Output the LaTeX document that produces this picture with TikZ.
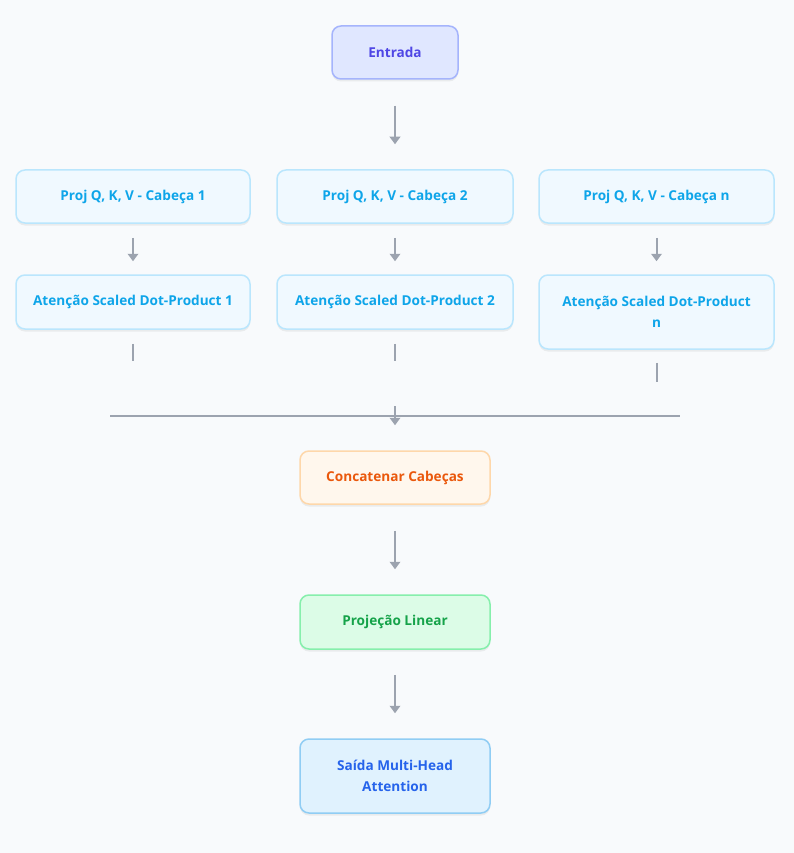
\documentclass[tikz,border=0pt]{standalone}
\usepackage{fontspec}
\setmainfont{Open Sans}
\usetikzlibrary{arrows.meta,shadows}
\definecolor{bg}{HTML}{F8FAFC}
\definecolor{arr}{HTML}{9CA3AF}
\definecolor{inF}{HTML}{E0E7FF}\definecolor{inD}{HTML}{A5B4FC}\definecolor{inT}{HTML}{4F46E5}
\definecolor{hdF}{HTML}{F0F9FF}\definecolor{hdD}{HTML}{BAE6FD}\definecolor{hdT}{HTML}{0EA5E9}
\definecolor{ccF}{HTML}{FFF7ED}\definecolor{ccD}{HTML}{FED7AA}\definecolor{ccT}{HTML}{EA580C}
\definecolor{lnF}{HTML}{DCFCE7}\definecolor{lnD}{HTML}{86EFAC}\definecolor{lnT}{HTML}{16A34A}
\definecolor{ouF}{HTML}{E0F2FE}\definecolor{ouD}{HTML}{90CDF4}\definecolor{ouT}{HTML}{2563EB}
\tikzset{
  box/.style={rounded corners=9pt, line width=1.5pt, align=center, inner sep=0pt,
    font=\fontsize{13.6}{20.5}\selectfont\bfseries,
    drop shadow={opacity=0.12, shadow xshift=0pt, shadow yshift=-2.5pt}},
  inbox/.style={box, fill=inF, draw=inD, text=inT},
  hdbox/.style={box, fill=hdF, draw=hdD, text=hdT},
  ccbox/.style={box, fill=ccF, draw=ccD, text=ccT},
  lnbox/.style={box, fill=lnF, draw=lnD, text=lnT},
  oubox/.style={box, fill=ouF, draw=ouD, text=ouT},
  conn/.style={draw=arr, line width=2pt},
  arrowc/.style={conn, -{Triangle[length=7.5pt,width=10.5pt]}},
}
\begin{document}
\begin{tikzpicture}[x=1pt,y=-1pt]
\fill[bg] (0,0) rectangle (794,853);
\useasboundingbox (0,0) rectangle (794,853);
% nodes
\node[inbox, minimum width=126pt, minimum height=53pt] (in) at (395,52.5) {Entrada};
\node[hdbox, minimum width=234pt, minimum height=53pt] (p1) at (133,196.5) {Proj Q, K, V - Cabeça 1};
\node[hdbox, minimum width=236pt, minimum height=53pt] (p2) at (395,196.5) {Proj Q, K, V - Cabeça 2};
\node[hdbox, minimum width=235pt, minimum height=53pt] (p3) at (656.5,196.5) {Proj Q, K, V - Cabeça n};
\node[hdbox, minimum width=234pt, minimum height=54pt] (a1) at (133,302) {Atenção Scaled Dot-Product 1};
\node[hdbox, minimum width=236pt, minimum height=54pt] (a2) at (395,302) {Atenção Scaled Dot-Product 2};
\node[hdbox, minimum width=235pt, minimum height=74pt] (a3) at (656.5,312) {Atenção Scaled Dot-Product\\n};
\node[ccbox, minimum width=190pt, minimum height=53pt] (cc) at (395,477.5) {Concatenar Cabeças};
\node[lnbox, minimum width=190pt, minimum height=54pt] (ln) at (395,622) {Projeção Linear};
\node[oubox, minimum width=190pt, minimum height=74pt] (ou) at (395,776) {Saída Multi-Head\\Attention};
% connectors
\draw[arrowc, shorten <=26pt, shorten >=25pt] (in.south) -- (p2.north);
\draw[arrowc, shorten <=14pt, shorten >=13pt] (p1.south) -- (a1.north);
\draw[arrowc, shorten <=14pt, shorten >=13pt] (p2.south) -- (a2.north);
\draw[arrowc, shorten <=14pt, shorten >=13pt] (p3.south) -- (a3.north);
\coordinate (e1) at (133,361);
\coordinate (e2) at (395,361);
\coordinate (e3) at (656.5,382);
\draw[conn, shorten <=14pt] (a1.south) -- (e1);
\draw[conn, shorten <=14pt] (a2.south) -- (e2);
\draw[conn, shorten <=13pt] (a3.south) -- (e3);
\coordinate (hl) at (110,416);
\coordinate (hr) at (680,416);
\draw[conn] (hl) -- (hr);
\coordinate (hm) at (395,406);
\draw[arrowc, shorten >=25pt] (hm) -- (cc.north);
\draw[arrowc, shorten <=26pt, shorten >=25pt] (cc.south) -- (ln.north);
\draw[arrowc, shorten <=25pt, shorten >=25pt] (ln.south) -- (ou.north);
\end{tikzpicture}
\end{document}
